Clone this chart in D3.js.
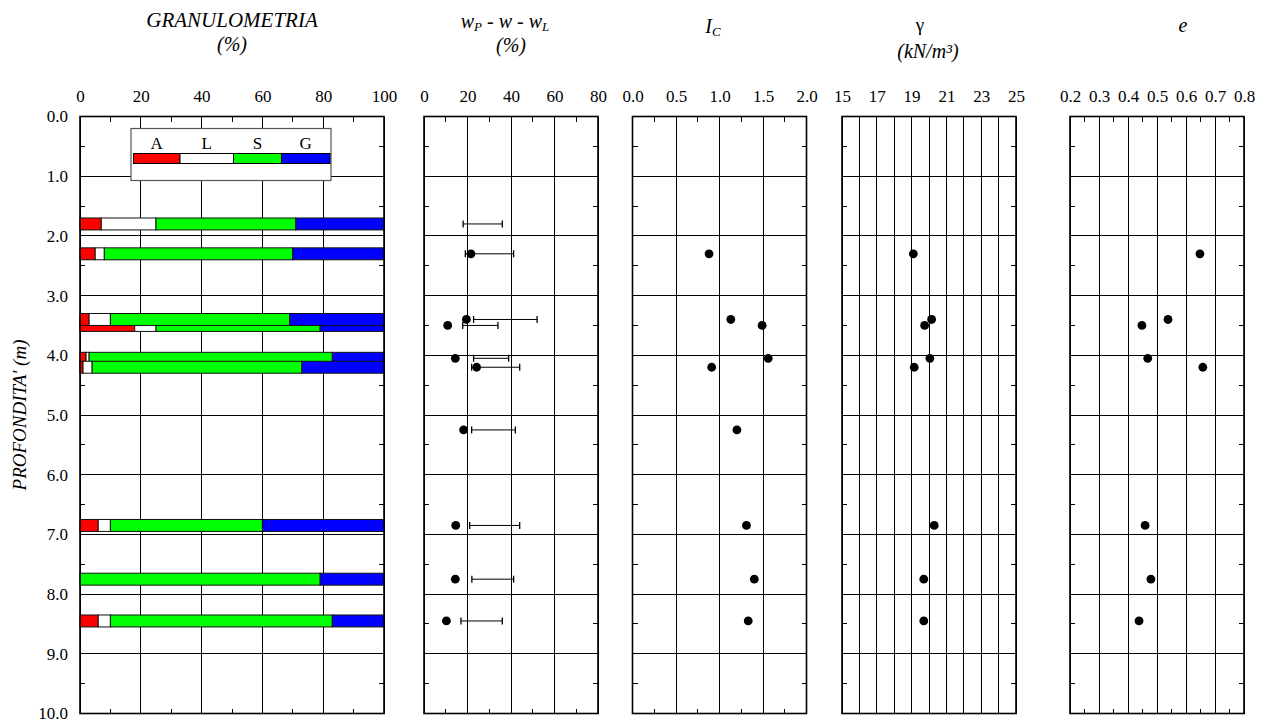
<!DOCTYPE html>
<html><head><meta charset="utf-8">
<script src="https://cdn.jsdelivr.net/npm/d3@7"></script>
<style>
html,body{margin:0;padding:0;background:#fff;}
svg{display:block;}
svg text{font-family:"Liberation Serif","Times New Roman",Times,serif !important;fill:#000;}
</style></head>
<body><svg id="c" width="1266" height="720" font-family="Liberation Serif"></svg>
<script>
// ---------- DATA ----------
const depthTicks = [0,1,2,3,4,5,6,7,8,9,10];
// granulometry samples (draw order)
const gDepths = [1.8, 2.3, 3.5, 3.4, 4.05, 4.2, 6.85, 7.75, 8.45];
const clay    = [7, 5, 18, 3, 2, 1, 6, 0, 6];
const silt    = [18, 3, 7, 7, 1, 3, 4, 0, 4];
const sand    = [46, 62, 54, 59, 80, 69, 50, 79, 73];
const gravel  = [29, 30, 21, 31, 17, 27, 40, 21, 17];
const grainKeys = ["A","L","S","G"];
const grainColors = ["#ff0000","#ffffff","#00ff00","#0000ff"];
// Atterberg limits and water content
const wDepths = [1.8, 2.3, 3.4, 3.5, 4.05, 4.2, 5.25, 6.85, 7.75, 8.45];
const wPlastic = [18, 19, 22.8, 17.8, 22.8, 21.9, 21.9, 21, 22, 17];
const wNatural = [null, 21.6, 19.5, 10.9, 14.4, 24.2, 18.2, 14.6, 14.4, 10.3];
const wLiquid  = [36, 41.2, 52, 34, 38.9, 44, 42, 44, 41.2, 36];
// consistency index
const icDepths = [2.3, 3.4, 3.5, 4.05, 4.2, 5.25, 6.85, 7.75, 8.45];
const icValues = [0.88, 1.13, 1.49, 1.56, 0.91, 1.20, 1.31, 1.40, 1.33];
// unit weight
const gamDepths = [2.3, 3.4, 3.5, 4.05, 4.2, 6.85, 7.75, 8.45];
const gamValues = [19.1, 20.15, 19.75, 20.05, 19.15, 20.3, 19.7, 19.7];
// void ratio
const eDepths = [2.3, 3.4, 3.5, 4.05, 4.2, 6.85, 7.75, 8.45];
const eValues = [0.648, 0.538, 0.448, 0.468, 0.658, 0.459, 0.479, 0.438];
// tick labels
const gTicks = [0,20,40,60,80,100];
const wTicks = [0,20,40,60,80];
const icTicks = [0,0.5,1,1.5,2];
const gamTicks = [15,17,19,21,23,25];
const eTicks = [0.2,0.3,0.4,0.5,0.6,0.7,0.8];

// ---------- LAYOUT ----------
const FONT = "'Liberation Serif','Times New Roman',Times,serif";
const svg = d3.select("#c");
const y = d3.scaleLinear().domain([0,10]).range([116.5,713.5]);
const panels = [
  {x: d3.scaleLinear().domain([0,100]).range([80,384]), grid: d3.range(0,101,20), minor: d3.range(10,100,20), labels: gTicks, fmt: d3.format("d")},
  {x: d3.scaleLinear().domain([0,80]).range([424,598]), grid: wTicks, minor: d3.range(10,80,20), labels: wTicks, fmt: d3.format("d")},
  {x: d3.scaleLinear().domain([0,2]).range([632.5,806.5]), grid: icTicks, minor: [0.25,0.75,1.25,1.75], labels: icTicks, fmt: d3.format(".1f")},
  {x: d3.scaleLinear().domain([15,25]).range([842,1016]), grid: d3.range(15,26,1), minor: [], labels: gamTicks, fmt: d3.format("d")},
  {x: d3.scaleLinear().domain([0.2,0.8]).range([1070,1244]), grid: eTicks, minor: [0.25,0.35,0.45,0.55,0.65,0.75], labels: eTicks, fmt: d3.format(".1f")}
];
const minorDepth = [0.5,1.5,2.5,3.5,4.5,5.5,6.5,7.5,8.5,9.5];

panels.forEach(p => {
  const g = svg.append("g");
  const [x0,x1] = p.x.range();
  g.selectAll(".vg").data(p.grid).join("line")
    .attr("x1", d=>p.x(d)).attr("x2", d=>p.x(d))
    .attr("y1", y(0)).attr("y2", y(10))
    .attr("stroke","#000").attr("stroke-width",1).attr("shape-rendering","crispEdges");
  g.selectAll(".hg").data(depthTicks).join("line")
    .attr("x1", x0).attr("x2", x1)
    .attr("y1", d=>y(d)).attr("y2", d=>y(d))
    .attr("stroke","#000").attr("stroke-width",1).attr("shape-rendering","crispEdges");
  p.minor.forEach(v => {
    g.append("line").attr("x1",p.x(v)).attr("x2",p.x(v)).attr("y1",y(0)).attr("y2",y(0)+5)
      .attr("stroke","#000").attr("shape-rendering","crispEdges");
    g.append("line").attr("x1",p.x(v)).attr("x2",p.x(v)).attr("y1",y(10)).attr("y2",y(10)-5)
      .attr("stroke","#000").attr("shape-rendering","crispEdges");
  });
  minorDepth.forEach(v => {
    g.append("line").attr("x1",x0).attr("x2",x0+5).attr("y1",y(v)).attr("y2",y(v))
      .attr("stroke","#000").attr("shape-rendering","crispEdges");
    g.append("line").attr("x1",x1).attr("x2",x1-5).attr("y1",y(v)).attr("y2",y(v))
      .attr("stroke","#000").attr("shape-rendering","crispEdges");
  });
  const ax = svg.append("g").attr("transform",`translate(0,${y(0)})`)
    .call(d3.axisTop(p.x).tickValues(p.labels).tickFormat(p.fmt).tickSize(0).tickPadding(15));
  ax.attr("font-family",FONT).attr("font-size",17);
  ax.select(".domain").remove();
  ax.selectAll("text").attr("fill","#000");
});

const ay = svg.append("g").attr("transform","translate(80,0)")
  .call(d3.axisLeft(y).tickValues(depthTicks).tickFormat(d3.format(".1f")).tickSize(0).tickPadding(12));
ay.attr("font-family",FONT).attr("font-size",17);
ay.select(".domain").remove();
ay.selectAll("text").attr("fill","#000");

// ---------- GRANULOMETRY ----------
const xg = panels[0].x;
const leg = svg.append("g");
leg.append("rect").attr("x",131).attr("y",128.5).attr("width",200).attr("height",52)
  .attr("fill","#fff").attr("stroke","#555").attr("stroke-width",1.2);
const legEdges = [133.5,180,233.5,281.5,330];
grainKeys.forEach((k,i) => {
  leg.append("rect").attr("x",legEdges[i]).attr("y",153.5).attr("width",legEdges[i+1]-legEdges[i]).attr("height",10)
    .attr("fill",grainColors[i]).attr("stroke","#000").attr("stroke-width",1);
  leg.append("text").attr("x",(legEdges[i]+legEdges[i+1])/2).attr("y",148.5).attr("text-anchor","middle")
    .attr("font-size",17).text(k);
});

const gTable = gDepths.map((d,i)=>({depth:d, A:clay[i], L:silt[i], S:sand[i], G:gravel[i]}));
const stacked = d3.stack().keys(grainKeys)(gTable);
const barH = y(0.2)-y(0);
gTable.forEach((row,i) => {
  stacked.forEach((layer,k) => {
    const seg = layer[i];
    if (seg[1]-seg[0] <= 0) return;
    svg.append("rect").attr("x",xg(seg[0])).attr("width",xg(seg[1])-xg(seg[0]))
      .attr("y",y(row.depth)-barH/2).attr("height",barH)
      .attr("fill",grainColors[k]).attr("stroke","#111").attr("stroke-width",1);
  });
});

// ---------- W ----------
const xw = panels[1].x;
const wg = svg.append("g");
wDepths.forEach((d,i) => {
  const yy = y(d);
  wg.append("line").attr("x1",xw(wPlastic[i])).attr("x2",xw(wLiquid[i])).attr("y1",yy).attr("y2",yy)
    .attr("stroke","#000").attr("stroke-width",1);
  [wPlastic[i],wLiquid[i]].forEach(v=>{
    wg.append("line").attr("x1",xw(v)).attr("x2",xw(v)).attr("y1",yy-3.5).attr("y2",yy+3.5)
      .attr("stroke","#000").attr("stroke-width",1.3);
  });
  if (wNatural[i]!=null) wg.append("circle").attr("cx",xw(wNatural[i])).attr("cy",yy).attr("r",4.4).attr("fill","#000");
});

// ---------- points ----------
function dots(px, ds, vs){
  svg.append("g").selectAll("circle").data(vs).join("circle")
    .attr("cx",v=>px(v)).attr("cy",(v,i)=>y(ds[i])).attr("r",4.4).attr("fill","#000");
}
dots(panels[2].x, icDepths, icValues);
dots(panels[3].x, gamDepths, gamValues);
dots(panels[4].x, eDepths, eValues);

// ---------- frames ----------
panels.forEach(p=>{
  const [x0,x1]=p.x.range();
  svg.append("rect").attr("x",x0).attr("y",y(0)).attr("width",x1-x0).attr("height",y(10)-y(0))
    .attr("fill","none").attr("stroke","#000").attr("stroke-width",1.6);
});

// ---------- titles ----------
const tt = svg.append("g").attr("font-style","italic").attr("font-size",20);
tt.append("text").attr("x",232).attr("y",26.5).attr("text-anchor","middle").attr("font-size",21).text("GRANULOMETRIA");
tt.append("text").attr("x",232).attr("y",50.5).attr("text-anchor","middle").text("(%)");
const wt = tt.append("text").attr("x",505).attr("y",28).attr("text-anchor","middle");
wt.append("tspan").text("w");
wt.append("tspan").attr("dy",3).attr("font-size",13).text("P");
wt.append("tspan").attr("dy",-3).text(" - w - w");
wt.append("tspan").attr("dy",3).attr("font-size",13).text("L");
tt.append("text").attr("x",511).attr("y",52).attr("text-anchor","middle").text("(%)");
const it = tt.append("text").attr("x",713).attr("y",33).attr("text-anchor","middle");
it.append("tspan").text("I");
it.append("tspan").attr("dy",3).attr("font-size",13).text("C");
svg.append("text").attr("x",920).attr("y",31).attr("text-anchor","middle").attr("font-size",19).text("γ");
tt.append("text").attr("x",928).attr("y",58).attr("text-anchor","middle").text("(kN/m³)");
tt.append("text").attr("x",1183).attr("y",32).attr("text-anchor","middle").text("e");
tt.append("text").attr("transform","translate(26,415) rotate(-90)").attr("text-anchor","middle")
  .attr("font-size",19).text("PROFONDITA' (m)");
</script>
</body></html>
